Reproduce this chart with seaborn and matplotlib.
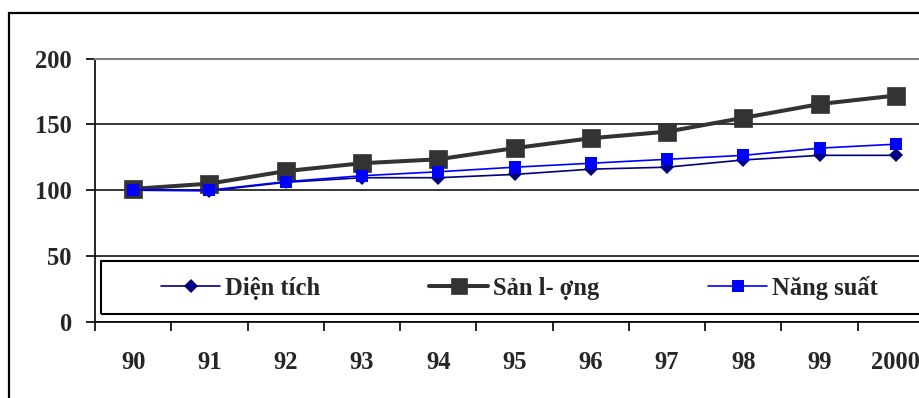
import numpy as np
import pandas as pd
import matplotlib.pyplot as plt
import seaborn as sns
from matplotlib.patches import Rectangle

# Data (index, 1990 = 100)
years = ['90', '91', '92', '93', '94', '95', '96', '97', '98', '99', '2000']
dien_tich = [100, 99.5, 106, 109.5, 109.5, 112, 116, 117.5, 123, 126.5, 126.5]
san_luong = [101, 105, 114.5, 120.5, 123.5, 132, 139.5, 144.5, 155, 165.5, 172]
nang_suat = [100.5, 100, 106.5, 111, 114, 117.5, 120.5, 123.5, 126.5, 132, 135]
y_ticks = [0, 50, 100, 150, 200]

df = pd.DataFrame({'pos': np.arange(len(years)), 'year': years,
                   'dien_tich': dien_tich, 'san_luong': san_luong,
                   'nang_suat': nang_suat})

sns.set_style("white")
plt.rcParams['font.family'] = ['Liberation Serif', 'DejaVu Serif']
plt.rcParams['font.weight'] = 'bold'

W, H = 920, 398
fig = plt.figure(figsize=(W / 100, H / 100), dpi=100)
# plot area runs off the right edge, as in the reference
ax = fig.add_axes([95 / W, (H - 321.7) / H, (934 - 95) / W, 263 / H])

sns.lineplot(data=df, x='pos', y='dien_tich', ax=ax, color='#000080', lw=1.2,
             marker='D', markersize=7.4, markeredgecolor='#000080',
             markeredgewidth=0, label='Diện tích')
sns.lineplot(data=df, x='pos', y='san_luong', ax=ax, color='#333333', lw=2.9,
             marker='s', markersize=13.5, markeredgecolor='#333333',
             markeredgewidth=0.5, label='Sản l- ợng')
sns.lineplot(data=df, x='pos', y='nang_suat', ax=ax, color='#0000FF', lw=1.2,
             marker='s', markersize=8.8, markeredgecolor='#0000FF',
             markeredgewidth=0, label='Năng suất')

ax.set_xlim(-0.5, len(years) - 0.5)
ax.set_ylim(0, 200)
ax.set_xlabel('')
ax.set_ylabel('')

# gridlines
ax.set_yticks(y_ticks)
ax.set_axisbelow(True)
ax.yaxis.grid(True, color='black', lw=1.1)
ax.get_ygridlines()[-1].set_visible(False)
ax.xaxis.grid(False)

for s in ['left', 'bottom']:
    ax.spines[s].set_color('black')
    ax.spines[s].set_linewidth(1.2)
for s in ['top', 'right']:
    ax.spines[s].set_color('#808080')
    ax.spines[s].set_linewidth(1.5)

ax.set_xticks(df['pos'])
ax.set_xticklabels(years)
ax.set_xticks(np.arange(-0.5, len(years), 1), minor=True)
ax.tick_params(axis='x', which='major', length=0, pad=21, labelsize=17.7)
ax.tick_params(axis='x', which='minor', bottom=True, length=6.5, width=1.2,
               direction='out', color='black')
ax.tick_params(axis='y', left=True, length=6.5, width=1.2, pad=10.3,
               labelsize=17.7, direction='out', color='black')
for lab in ax.get_xticklabels() + ax.get_yticklabels():
    lab.set_fontweight('bold')

# legend
leg = ax.legend(loc='center', bbox_to_anchor=((101 + 938) / 2 / W, (H - 287.5) / H),
                bbox_transform=fig.transFigure, ncol=3, frameon=False,
                prop={'size': 17.7, 'weight': 'bold'}, handlelength=2.4,
                handletextpad=0.2, columnspacing=4.43)
leg.legend_handles[1].set_markersize(11)
fig.patches.append(Rectangle((101 / W, (H - 314) / H), (938 - 101) / W, 53 / H,
                             transform=fig.transFigure, fill=False,
                             edgecolor='black', lw=1.5))

# outer chart frame (cropped at right and bottom)
fig.patches.append(Rectangle((9 / W, -0.2), 1.5, (H - 13) / H + 0.2,
                             transform=fig.transFigure, fill=False,
                             edgecolor='black', lw=1.6))

fig.savefig('out.png', dpi=100)
